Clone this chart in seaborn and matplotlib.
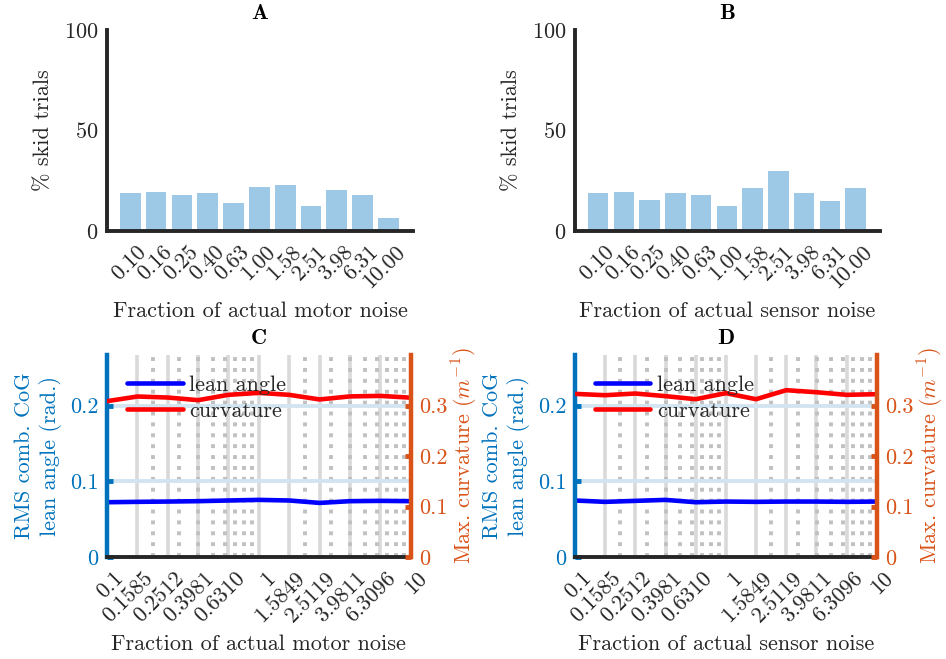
import matplotlib
matplotlib.use("Agg")
import matplotlib.pyplot as plt
import matplotlib.ticker as mticker
import matplotlib.transforms as mtransforms
from matplotlib.lines import Line2D
import seaborn as sns
import pandas as pd
import numpy as np

# ---------------- data ----------------
bar_labels = ["0.10", "0.16", "0.25", "0.40", "0.63", "1.00", "1.58", "2.51", "3.98", "6.31", "10.00"]
motor_skid = [18.7, 19.6, 18.0, 18.7, 13.9, 21.9, 22.7, 12.4, 20.4, 17.9, 6.6]
sensor_skid = [18.7, 19.6, 15.4, 18.7, 18.0, 12.3, 21.6, 29.7, 18.7, 14.8, 21.6]

noise_levels = [0.1, 0.1585, 0.2512, 0.3981, 0.6310, 1.0, 1.5849, 2.5119, 3.9811, 6.3096, 10.0]
noise_tick_labels = ["0.1", "0.1585", "0.2512", "0.3981", "0.6310", "1", "1.5849", "2.5119", "3.9811", "6.3096", "10"]

motor_lean = [0.0723, 0.0728, 0.0732, 0.0737, 0.0746, 0.0754, 0.0746, 0.0714, 0.0737, 0.0741, 0.0737]
motor_curv = [0.3086, 0.3178, 0.3158, 0.3106, 0.3211, 0.3250, 0.3211, 0.3120, 0.3180, 0.3190, 0.3155]
sensor_lean = [0.0746, 0.0728, 0.0741, 0.0754, 0.0723, 0.0732, 0.0728, 0.0732, 0.0732, 0.0728, 0.0732]
sensor_curv = [0.3230, 0.3204, 0.3237, 0.3185, 0.3125, 0.3244, 0.3125, 0.3303, 0.3263, 0.3211, 0.3224]

bar_yticks = [0, 50, 100]
left_yticks = [0, 0.1, 0.2]
left_yticklabels = ["0", "0.1", "0.2"]
right_yticks = [0, 0.1, 0.2, 0.3]
right_yticklabels = ["0", "0.1", "0.2", "0.3"]

# ---------------- style ----------------
sns.set_style("white")
plt.rcParams.update({
    "font.family": ["cmr10", "DejaVu Serif"],
    "mathtext.fontset": "cm",
    "axes.formatter.use_mathtext": True,
    "axes.unicode_minus": False,
})

DARK = "#262626"
BLUE_AX = "#0072BD"
ORANGE_AX = "#D95319"
BAR_C = "#9dc8e6"
FS = 16

W, H = 946, 659
fig = plt.figure(figsize=(W / 100, H / 100), dpi=100)


def rect(x0, y0, x1, y1):
    return [x0 / W, 1 - y1 / H, (x1 - x0) / W, (y1 - y0) / H]


def shift_xlabels(ax, dx=6, dy=-3):
    off = mtransforms.ScaledTranslation(dx / 100, dy / 100, fig.dpi_scale_trans)
    for lab in ax.get_xticklabels():
        lab.set_transform(lab.get_transform() + off)


def bar_panel(r, values, title, xlabel):
    ax = fig.add_axes(r)
    df = pd.DataFrame({"noise": bar_labels, "pct": values})
    sns.barplot(data=df, x="noise", y="pct", order=bar_labels, color=BAR_C,
                saturation=1, width=0.8, ax=ax, edgecolor="none")
    ax.set_xlim(-0.9, 10.95)
    ax.set_ylim(0, 100)
    ax.set_yticks(bar_yticks)
    ax.set_xticks(range(len(bar_labels)))
    ax.set_xticklabels(bar_labels, rotation=45, ha="right", va="top",
                       rotation_mode="anchor")
    for s in ["top", "right"]:
        ax.spines[s].set_visible(False)
    for s in ["left", "bottom"]:
        ax.spines[s].set_linewidth(2.8)
        ax.spines[s].set_color(DARK)
    ax.tick_params(direction="in", length=4, width=3.5, color=DARK,
                   labelsize=FS, labelcolor=DARK, pad=6)
    shift_xlabels(ax)
    ax.set_xlabel(xlabel, fontsize=FS, color=DARK, labelpad=7)
    ax.set_ylabel("% skid trials", fontsize=FS, color=DARK, labelpad=8)
    ax.set_title(title, fontfamily="cmb10", fontsize=FS, color="black", pad=8)
    return ax


def line_panel(r, lean, curv, title, xlabel):
    ax = fig.add_axes(r)
    ax2 = ax.twinx()
    ax.set_xscale("log")
    ax.set_xlim(0.1, 10)
    ax.set_ylim(0, 0.4 * 2 / 3)
    ax2.set_ylim(0, 0.4)

    ax.set_xticks(noise_levels)
    ax.xaxis.set_minor_locator(mticker.LogLocator(base=10, subs=np.arange(2, 10)))
    ax.xaxis.set_minor_formatter(mticker.NullFormatter())
    ax.set_xticklabels(noise_tick_labels, rotation=45, ha="right", va="top",
                       rotation_mode="anchor")

    ax.set_axisbelow(True)
    ax.grid(True, which="major", axis="x", color="#d9d9d9", lw=2.6, ls="-")
    ax.grid(True, which="minor", axis="x", color="#c0c0c0", lw=2.8, ls=(0, (1, 1.8)))
    ax.grid(True, which="major", axis="y", color="#d3e4f1", lw=2.8, ls="-")

    sns.lineplot(x=noise_levels, y=lean, ax=ax, color="#0000ff", lw=3.3)
    sns.lineplot(x=noise_levels, y=curv, ax=ax2, color="#ff0000", lw=3.3)

    ax.set_yticks(left_yticks)
    ax.set_yticklabels(left_yticklabels)
    ax2.set_yticks(right_yticks)
    ax2.set_yticklabels(right_yticklabels)

    for s in ["top", "right"]:
        ax.spines[s].set_visible(False)
    for s in ["top", "left", "bottom"]:
        ax2.spines[s].set_visible(False)
    ax.spines["left"].set_color(BLUE_AX)
    ax.spines["left"].set_linewidth(3.2)
    ax.spines["bottom"].set_color(DARK)
    ax.spines["bottom"].set_linewidth(2.8)
    ax2.spines["right"].set_color(ORANGE_AX)
    ax2.spines["right"].set_linewidth(3.2)

    ax.tick_params(axis="x", which="both", direction="in", length=4, width=3.5,
                   color=DARK, labelsize=FS, labelcolor=DARK, pad=6)
    ax.tick_params(axis="y", direction="in", length=4, width=3.5, color=BLUE_AX,
                   labelsize=FS, labelcolor=BLUE_AX, pad=6)
    ax2.tick_params(axis="y", direction="in", length=4, width=3.5, color=ORANGE_AX,
                    labelsize=FS, labelcolor=ORANGE_AX, pad=6)
    shift_xlabels(ax)

    ax.set_xlabel(xlabel, fontsize=FS, color=DARK, labelpad=6)
    ax.set_ylabel("RMS comb. CoG\nlean angle (rad.)", fontsize=FS, color=BLUE_AX,
                  labelpad=6, linespacing=1.3)
    ax2.set_ylabel("Max. curvature ($m^{-1}$)", fontsize=FS, color=ORANGE_AX, labelpad=2)
    ax.set_title(title, fontfamily="cmb10", fontsize=FS, color="black", pad=8)

    handles = [Line2D([], [], color="#0000ff", lw=3.3),
               Line2D([], [], color="#ff0000", lw=3.3)]
    ax2.legend(handles, ["lean angle", "curvature"], loc="upper left",
               bbox_to_anchor=(0.066, 0.90), frameon=False, fontsize=FS,
               handlelength=2.5, handletextpad=0.3, labelspacing=0.3,
               borderaxespad=0, borderpad=0)
    return ax, ax2


bar_panel(rect(107, 30, 413, 231), motor_skid, "A", "Fraction of actual motor noise")
bar_panel(rect(575, 30, 880, 231), sensor_skid, "B", "Fraction of actual sensor noise")
line_panel(rect(107, 355, 410.7, 557), motor_lean, motor_curv, "C",
           "Fraction of actual motor noise")
line_panel(rect(575, 355, 876.7, 557), sensor_lean, sensor_curv, "D",
           "Fraction of actual sensor noise")

fig.savefig("out.png", dpi=100, facecolor="white")
